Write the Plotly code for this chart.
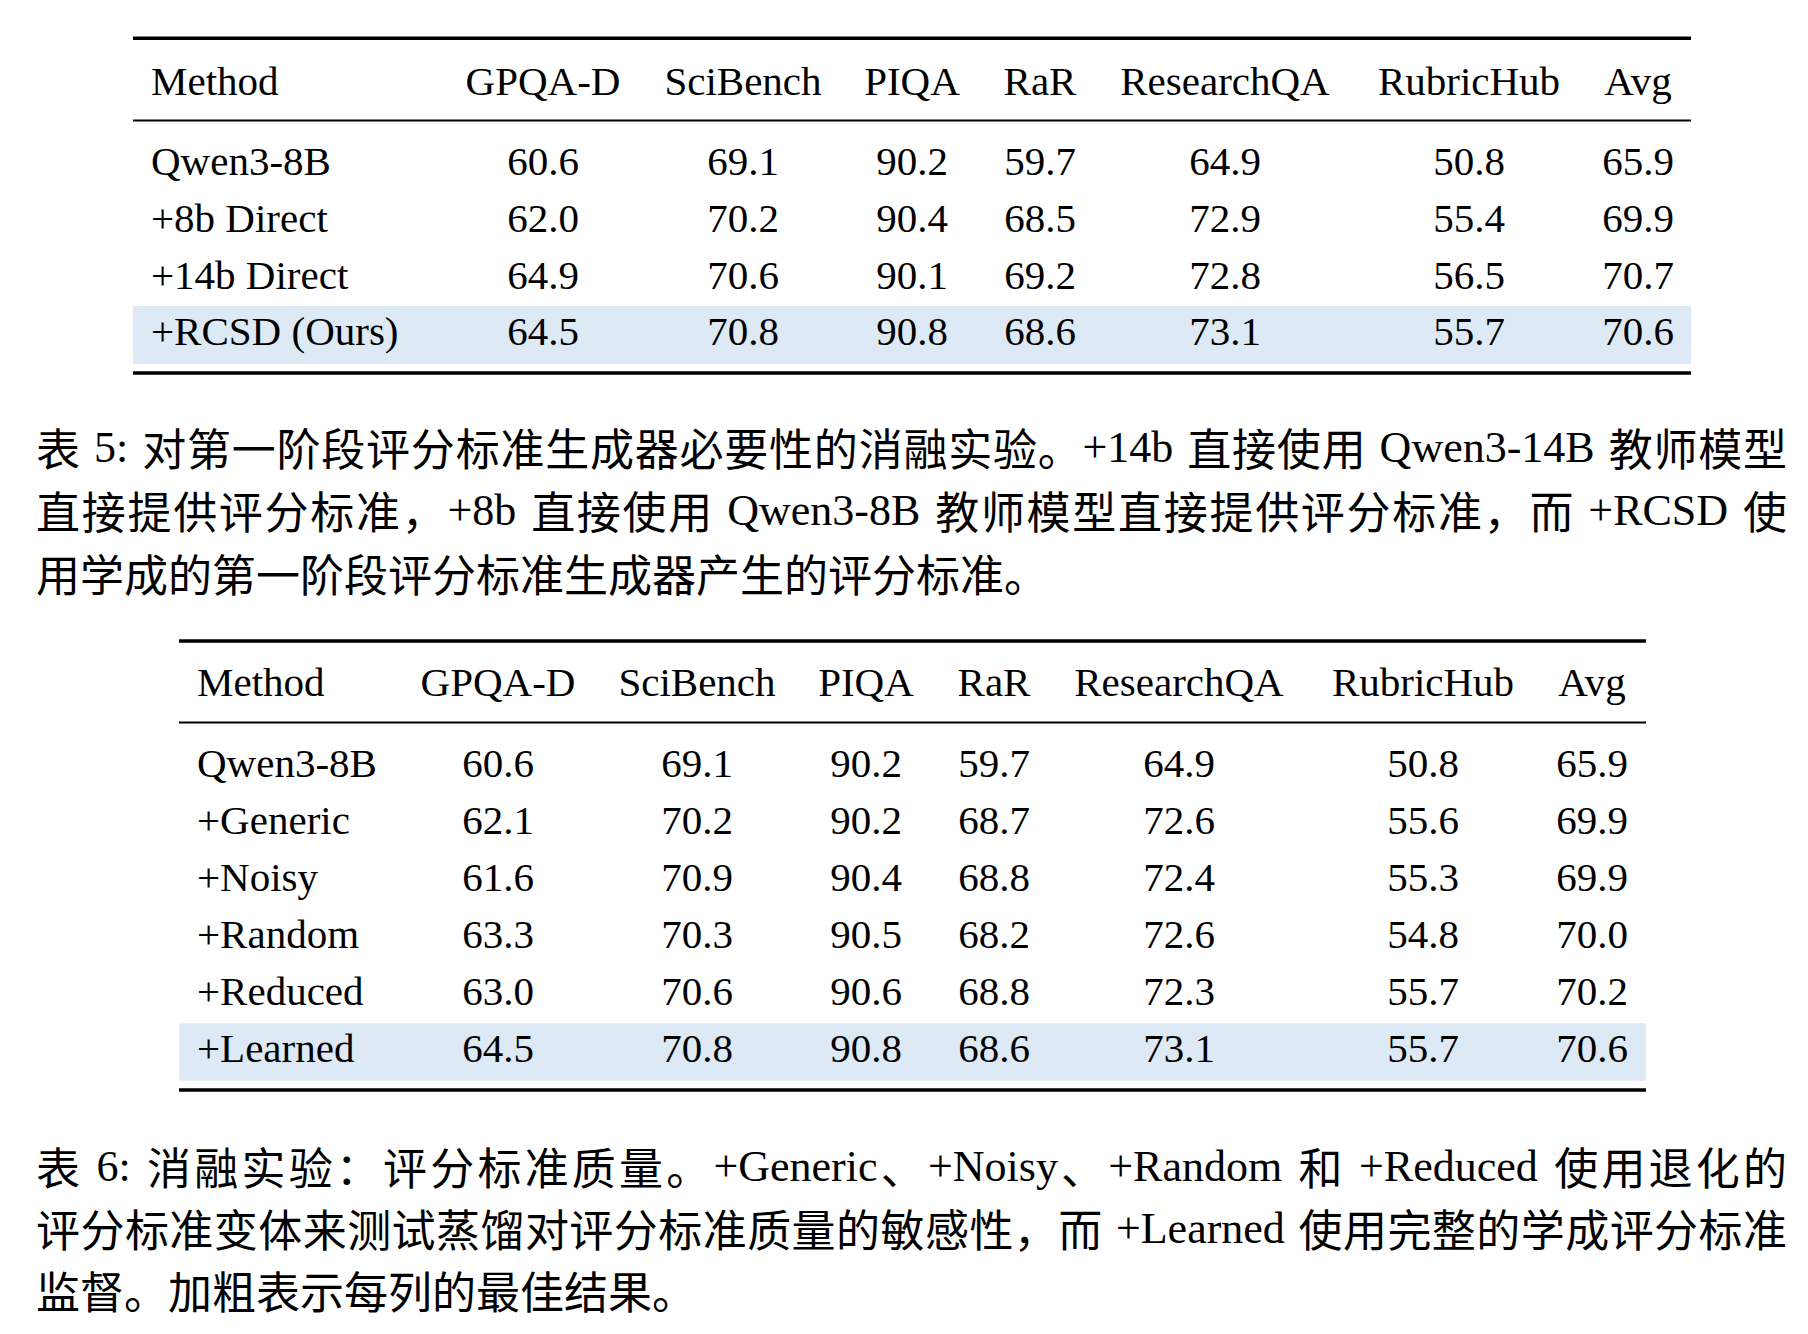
import plotly.graph_objects as go

# ---------------- data ----------------
columns = ["Method", "GPQA-D", "SciBench", "PIQA", "RaR", "ResearchQA", "RubricHub", "Avg"]

t5_methods = ["Qwen3-8B", "+8b Direct", "+14b Direct", "+RCSD (Ours)"]
t5_gpqa = [60.6, 62.0, 64.9, 64.5]
t5_scibench = [69.1, 70.2, 70.6, 70.8]
t5_piqa = [90.2, 90.4, 90.1, 90.8]
t5_rar = [59.7, 68.5, 69.2, 68.6]
t5_researchqa = [64.9, 72.9, 72.8, 73.1]
t5_rubrichub = [50.8, 55.4, 56.5, 55.7]
t5_avg = [65.9, 69.9, 70.7, 70.6]

t6_methods = ["Qwen3-8B", "+Generic", "+Noisy", "+Random", "+Reduced", "+Learned"]
t6_gpqa = [60.6, 62.1, 61.6, 63.3, 63.0, 64.5]
t6_scibench = [69.1, 70.2, 70.9, 70.3, 70.6, 70.8]
t6_piqa = [90.2, 90.2, 90.4, 90.5, 90.6, 90.8]
t6_rar = [59.7, 68.7, 68.8, 68.2, 68.8, 68.6]
t6_researchqa = [64.9, 72.6, 72.4, 72.6, 72.3, 73.1]
t6_rubrichub = [50.8, 55.6, 55.3, 54.8, 55.7, 55.7]
t6_avg = [65.9, 69.9, 69.9, 70.0, 70.2, 70.6]

caption5 = [
    "表 5: 对第一阶段评分标准生成器必要性的消融实验。+14b 直接使用 Qwen3-14B 教师模型",
    "直接提供评分标准，+8b 直接使用 Qwen3-8B 教师模型直接提供评分标准，而 +RCSD 使",
    "用学成的第一阶段评分标准生成器产生的评分标准。",
]
caption6 = [
    "表 6: 消融实验：评分标准质量。+Generic、+Noisy、+Random 和 +Reduced 使用退化的",
    "评分标准变体来测试蒸馏对评分标准质量的敏感性，而 +Learned 使用完整的学成评分标准",
    "监督。加粗表示每列的最佳结果。",
]

# ---------------- layout / style ----------------
W, H = 1808, 1334
LAT = "Liberation Serif"
CJK = "Noto Sans CJK SC"
FS_TAB = 41
FS_CAP = 44
FS_CJK = 44
K_MID = 0.25          # scatter 'middle' text: baseline = y + K_MID * size
HL_COLOR = "#DDEAF6"

T5 = dict(left=133, right=1691, top_rule=38.3, head_base=95, mid_rule=120.5,
          row_base0=175.3, pitch=56.7, hl=(306, 364), bot_rule=373,
          method_x=151, col_x=[543, 743, 912, 1040, 1225, 1469, 1638])
T6 = dict(left=179, right=1646, top_rule=641, head_base=696, mid_rule=722.5,
          row_base0=777.3, pitch=56.9, hl=(1023.3, 1080.7), bot_rule=1090,
          method_x=197, col_x=[498, 697, 866, 994, 1179, 1423, 1592])

CAP5 = dict(centers=[449, 512, 575])
CAP6 = dict(centers=[1168.3, 1230.3, 1292.5])
CAP_L, CAP_R = 36, 1787

# Times / Liberation Serif advance widths (em/1000)
TW = {' ': 250, '+': 564, ':': 278, '-': 333, ',': 250, '.': 250, '(': 333, ')': 333,
      'A': 722, 'B': 667, 'C': 667, 'D': 722, 'G': 722, 'H': 722, 'I': 333, 'L': 611,
      'M': 889, 'N': 722, 'P': 556, 'Q': 722, 'R': 667, 'S': 556,
      'a': 444, 'b': 500, 'c': 444, 'd': 500, 'e': 444, 'g': 500, 'h': 500, 'i': 278,
      'l': 278, 'm': 778, 'n': 500, 'o': 500, 'r': 333, 's': 389, 't': 278, 'u': 500,
      'v': 500, 'w': 722, 'y': 500}
for _d in "0123456789":
    TW[_d] = 500

fig = go.Figure()
shapes = []


def add_text(xs, ys, texts, family, size, pos):
    fig.add_trace(go.Scatter(
        x=xs, y=ys, text=texts, mode="text", textposition=pos,
        marker=dict(size=0), textfont=dict(family=family, size=size, color="#000000"),
        hoverinfo="skip", showlegend=False, cliponaxis=False))


def build_table(spec, methods, value_cols):
    n = len(methods)
    bases = [spec["row_base0"] + i * spec["pitch"] for i in range(n)]
    off = K_MID * FS_TAB
    # highlight last row
    shapes.append(dict(type="rect", xref="x", yref="y", x0=spec["left"], x1=spec["right"],
                       y0=spec["hl"][0], y1=spec["hl"][1], fillcolor=HL_COLOR,
                       line=dict(width=0), layer="below"))
    for yc, w in ((spec["top_rule"], 3.6), (spec["mid_rule"], 2.2), (spec["bot_rule"], 3.6)):
        shapes.append(dict(type="line", xref="x", yref="y", x0=spec["left"], x1=spec["right"],
                           y0=yc, y1=yc, line=dict(color="#000000", width=w)))
    # header
    hy = spec["head_base"] - off
    add_text([spec["method_x"]], [hy], [columns[0]], LAT, FS_TAB, "middle right")
    add_text(spec["col_x"], [hy] * len(spec["col_x"]), columns[1:], LAT, FS_TAB, "middle center")
    # body
    add_text([spec["method_x"]] * n, [b - off for b in bases], methods, LAT, FS_TAB, "middle right")
    xs, ys, ts = [], [], []
    for cx, vals in zip(spec["col_x"], value_cols):
        for b, v in zip(bases, vals):
            xs.append(cx)
            ys.append(b - off)
            ts.append(f"{v:.1f}")
    add_text(xs, ys, ts, LAT, FS_TAB, "middle center")


def is_cjk(ch):
    return ord(ch) >= 0x2E80


def tokenize(line):
    units = []
    buf, buf_sp, sp = "", False, False
    for ch in line:
        if ch == " ":
            if buf:
                units.append(["lat", buf, buf_sp])
                buf = ""
            sp = True
        elif is_cjk(ch):
            if buf:
                units.append(["lat", buf, buf_sp])
                buf = ""
            units.append(["cjk", ch, sp])
            sp = False
        else:
            if not buf:
                buf_sp, sp = sp, False
            buf += ch
    if buf:
        units.append(["lat", buf, buf_sp])
    return units


def build_caption(spec, lines):
    cx, cy, ct, lx, ly, lt = [], [], [], [], [], []
    space_w = 0.30 * FS_CAP
    for li, (line, center) in enumerate(zip(lines, spec["centers"])):
        units = tokenize(line)
        widths = [FS_CJK if u[0] == "cjk" else sum(TW.get(c, 500) for c in u[1]) / 1000 * FS_CAP
                  for u in units]
        gaps = [0.0] + [space_w if u[2] else 0.0 for u in units[1:]]
        natural = sum(widths) + sum(gaps)
        last = li == len(lines) - 1
        extra = 0.0 if last else (CAP_R - CAP_L - natural) / (len(units) - 1)
        x = CAP_L
        for i, (u, w) in enumerate(zip(units, widths)):
            if i > 0:
                x += gaps[i] + extra
            if u[0] == "cjk":
                cx.append(x); cy.append(center + 0.38 * FS_CJK - K_MID * FS_CJK); ct.append(u[1])
            else:
                lx.append(x); ly.append(center + 13 - K_MID * FS_CAP); lt.append(u[1])
            x += w
    add_text(cx, cy, ct, CJK, FS_CJK, "middle right")
    add_text(lx, ly, lt, LAT, FS_CAP, "middle right")


build_table(T5, t5_methods, [t5_gpqa, t5_scibench, t5_piqa, t5_rar, t5_researchqa, t5_rubrichub, t5_avg])
build_caption(CAP5, caption5)
build_table(T6, t6_methods, [t6_gpqa, t6_scibench, t6_piqa, t6_rar, t6_researchqa, t6_rubrichub, t6_avg])
build_caption(CAP6, caption6)

fig.update_layout(
    width=W, height=H, margin=dict(l=0, r=0, t=0, b=0, pad=0),
    paper_bgcolor="#ffffff", plot_bgcolor="#ffffff", showlegend=False,
    xaxis=dict(range=[0, W], visible=False, fixedrange=True),
    yaxis=dict(range=[H, 0], visible=False, fixedrange=True),
    shapes=shapes,
)

fig.write_html("out.html", config={"displayModeBar": False},
               post_script="document.body.style.margin='0';document.body.style.overflow='hidden';")
